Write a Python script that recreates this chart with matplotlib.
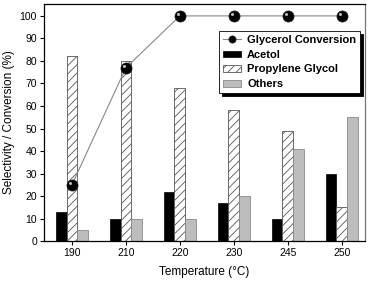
import numpy as np
import matplotlib
matplotlib.use("Agg")
import matplotlib.pyplot as plt
from matplotlib.transforms import offset_copy

plt.rcParams['font.family'] = ['Liberation Sans', 'DejaVu Sans']

temps = ['190', '210', '220', '230', '245', '250']
conversion = [25, 77, 100, 100, 100, 100]
acetol = [13, 10, 22, 17, 10, 30]
prop_glycol = [82, 80, 68, 58, 49, 15]
others = [5, 10, 10, 20, 41, 55]

x = np.arange(len(temps))
w = 0.2

fig = plt.figure(figsize=(3.72, 2.83), dpi=100)
ax = fig.add_axes([0.118, 0.148, 0.863, 0.838])

plt.rcParams['hatch.linewidth'] = 0.6
b1 = ax.bar(x - w, acetol, w, color='black', edgecolor='black', lw=0.5, label='Acetol')
b2 = ax.bar(x, prop_glycol, w, color='white', edgecolor='#555555', hatch='////',
            lw=0.6, label='Propylene Glycol')
b3 = ax.bar(x + w, others, w, color='#bdbdbd', edgecolor='#8a8a8a', lw=0.6, label='Others')

l1, = ax.plot(x, conversion, '-', color='#888888', lw=0.8, marker='o', ms=8,
              mfc='black', mec='#222222', mew=0.5, label='Glycerol Conversion', zorder=5)
# small highlight to give the spheres some shine
hl = offset_copy(ax.transData, fig=fig, x=-1.5, y=1.5, units='points')
ax.plot(x, conversion, 'o', ms=2.2, mfc='#bbbbbb', mec='none', transform=hl, zorder=6)

ax.set_xlim(-0.52, 5.43)
ax.set_ylim(0, 105.3)
ax.set_xticks(x)
ax.set_xticklabels(temps)
ax.set_yticks(range(0, 101, 10))
ax.tick_params(direction='out', length=3, width=0.8, labelsize=7.5, pad=2)
ax.tick_params(top=False, right=False)
for s in ax.spines.values():
    s.set_linewidth(0.9)
ax.spines['right'].set_color('#777777')

ax.set_xlabel('Temperature (°C)', fontsize=8.5, labelpad=6)
ax.set_ylabel('Selectivity / Conversion (%)', fontsize=8.5, labelpad=3)

leg = ax.legend(handles=[l1, b1, b2, b3], loc='upper left',
                bbox_to_anchor=(0.545, 0.885), frameon=True, shadow={'color': 'black', 'alpha': 1},
                fancybox=False, edgecolor='black',
                prop={'weight': 'bold', 'size': 8}, handlelength=1.6, handleheight=0.55,
                labelspacing=0.42, borderpad=0.35, handletextpad=0.6, borderaxespad=0,
                markerscale=0.65)
leg.get_frame().set_linewidth(0.6)

fig.savefig('out.png', dpi=100)
